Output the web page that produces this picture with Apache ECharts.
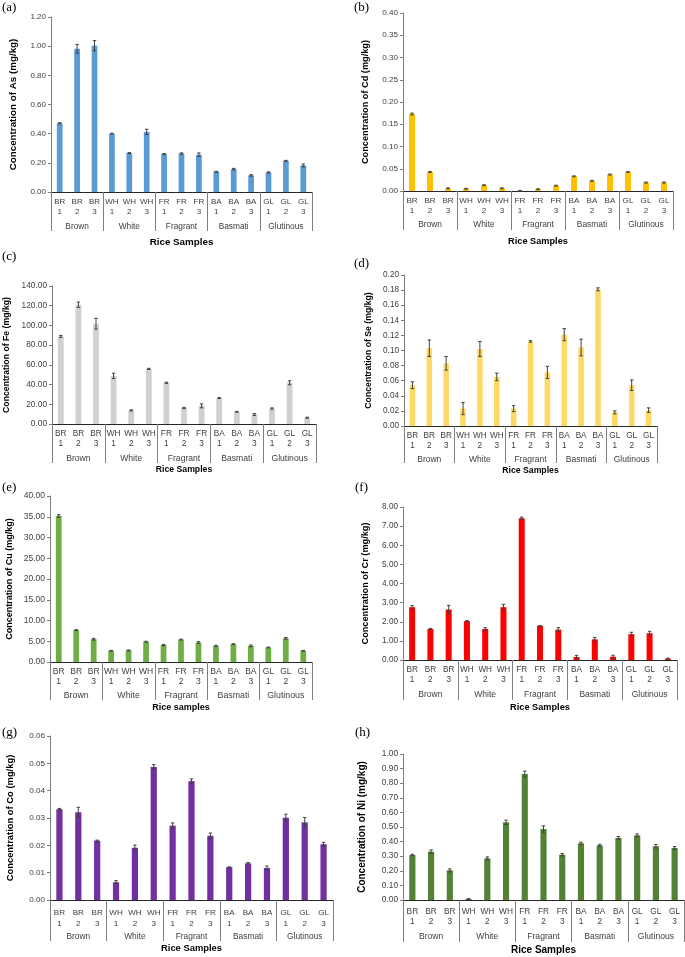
<!DOCTYPE html>
<html><head><meta charset="utf-8">
<script src="https://cdn.jsdelivr.net/npm/echarts@6/dist/echarts.min.js"></script>
<style>html,body{margin:0;padding:0;background:#fff}#c{width:685px;height:957px}</style>
</head><body><div id="c"></div>
<script>
// ---------- data ----------
const samples = ['BR\n1','BR\n2','BR\n3','WH\n1','WH\n2','WH\n3','FR\n1','FR\n2','FR\n3','BA\n1','BA\n2','BA\n3','GL\n1','GL\n2','GL\n3'];
const groups = ['Brown','White','Fragrant','Basmati','Glutinous'];

const asMean = [0.471, 0.982, 1.003, 0.400, 0.267, 0.412, 0.260, 0.264, 0.256, 0.139, 0.157, 0.114, 0.134, 0.214, 0.182];
const asErr  = [0.004, 0.030, 0.035, 0.003, 0.003, 0.018, 0.004, 0.004, 0.012, 0.003, 0.005, 0.005, 0.004, 0.003, 0.010];

const cdMean = [0.173, 0.043, 0.006, 0.005, 0.013, 0.006, 0.0005, 0.004, 0.012, 0.033, 0.023, 0.037, 0.043, 0.019, 0.019];
const cdErr  = [0.002, 0.001, 0.001, 0.001, 0.001, 0.001, 0.001, 0.001, 0.001, 0.001, 0.001, 0.001, 0.001, 0.001, 0.001];

const feMean = [88.9, 121.0, 101.7, 48.8, 13.8, 55.9, 41.8, 16.2, 18.4, 26.3, 12.4, 9.6, 15.7, 41.8, 6.4];
const feErr  = [1.0, 2.7, 5.4, 2.7, 0.6, 0.6, 0.6, 0.6, 2.0, 0.5, 0.4, 0.9, 0.6, 2.0, 0.5];

const seMean = [0.054, 0.103, 0.083, 0.023, 0.102, 0.065, 0.023, 0.112, 0.071, 0.121, 0.104, 0.181, 0.018, 0.054, 0.021];
const seErr  = [0.0045, 0.011, 0.009, 0.008, 0.010, 0.005, 0.004, 0.001, 0.008, 0.008, 0.011, 0.002, 0.002, 0.007, 0.003];

const cuMean = [35.2, 7.7, 5.5, 2.7, 2.8, 4.9, 4.1, 5.4, 4.7, 3.9, 4.3, 3.9, 3.5, 5.7, 2.7];
const cuErr  = [0.3, 0.1, 0.2, 0.1, 0.1, 0.1, 0.15, 0.1, 0.2, 0.15, 0.1, 0.2, 0.1, 0.2, 0.1];

const crMean = [2.76, 1.62, 2.64, 2.03, 1.62, 2.76, 7.41, 1.78, 1.59, 0.16, 1.08, 0.17, 1.35, 1.40, 0.07];
const crErr  = [0.08, 0.03, 0.22, 0.03, 0.07, 0.15, 0.06, 0.02, 0.10, 0.08, 0.10, 0.08, 0.10, 0.10, 0.03];

const coMean = [0.0332, 0.0321, 0.0217, 0.0065, 0.0191, 0.0487, 0.0272, 0.0435, 0.0235, 0.0120, 0.0134, 0.0117, 0.0301, 0.0284, 0.0204];
const coErr  = [0.0003, 0.0018, 0.0002, 0.0006, 0.0010, 0.0008, 0.0010, 0.0008, 0.0010, 0.0001, 0.0003, 0.0007, 0.0013, 0.0018, 0.0007];

const niMean = [0.308, 0.331, 0.203, 0.007, 0.285, 0.532, 0.863, 0.486, 0.310, 0.388, 0.374, 0.425, 0.443, 0.368, 0.356];
const niErr  = [0.005, 0.012, 0.010, 0.002, 0.010, 0.015, 0.020, 0.022, 0.008, 0.008, 0.007, 0.010, 0.010, 0.012, 0.010];

const panelLetters = ['(a)','(b)','(c)','(d)','(e)','(f)','(g)','(h)'];
const yTitles = ['Concentration of As (mg/kg)','Concentration of Cd (mg/kg)','Concentration of Fe (mg/kg)','Concentration of Se (mg/kg)',
                 'Concentration of Cu (mg/kg)','Concentration of Cr (mg/kg)','Concentration of Co (mg/kg)','Concentration of Ni (mg/kg)'];
const xTitles = ['Rice Samples','Rice Samples','Rice Samples','Rice Samples','Rice samples','Rice Samples','Rice Samples','Rice Samples'];
const yMax  = [1.2, 0.4, 140, 0.2, 40, 8, 0.06, 1.0];
const yStep = [0.2, 0.05, 20, 0.02, 5, 1, 0.01, 0.1];
const means = [asMean, cdMean, feMean, seMean, cuMean, crMean, coMean, niMean];
const errs  = [asErr, cdErr, feErr, seErr, cuErr, crErr, coErr, niErr];

// ---------- layout / style ----------
const colors = ['#5B9BD5','#FFC000','#D0D0D0','#FFD966','#70AD47','#FF0000','#7030A0','#548235'];
// left, top, width, height of plot area
const boxes = [
  [51, 17, 261, 175], [403, 13, 270, 178],
  [52, 286, 264, 138], [404, 275, 253, 151],
  [50, 496, 262, 166], [403, 507, 274, 153],
  [50, 736, 283, 164], [403, 754, 281, 146]
];
const nameGapsY = [33, 33, 41, 31, 36, 33, 35, 36];
const titleSize = [9.8, 9.2, 8.7, 8.7, 9.0, 9.2, 9.4, 10.0];
const tickSize  = [8.0, 8.1, 8.3, 8.2, 8.5, 8.2, 8.1, 8.3];
const catMargin = [5, 5, 5, 5, 5, 5, 7, 7];
const catLH     = [10, 10, 10, 10, 10, 10, 11, 10];
const grpMargin = [31, 30, 30, 29, 29, 30, 33, 32];
const sepLen    = [39, 39, 39, 37, 38, 40, 41, 42];
const xNameGap  = [45, 46, 41, 40, 41, 43, 44, 45];
const letterPos = [[2, 8], [354, 8], [2, 257], [354, 264], [2, 488], [355, 488], [2, 733], [355, 733]];

const FONT = '"Liberation Sans", Arial, sans-serif';

function errRender(params, api) {
  const x = api.value(0), v = api.value(1), e = api.value(2);
  const hi = api.coord([x, v + e]);
  const lo = api.coord([x, Math.max(0, v - e)]);
  const cap = 1.7;
  const st = { stroke: '#404040', lineWidth: 1 };
  return { type: 'group', children: [
    { type: 'line', shape: { x1: hi[0], y1: hi[1], x2: hi[0], y2: lo[1] }, style: st },
    { type: 'line', shape: { x1: hi[0] - cap, y1: hi[1], x2: hi[0] + cap, y2: hi[1] }, style: st },
    { type: 'line', shape: { x1: lo[0] - cap, y1: lo[1], x2: lo[0] + cap, y2: lo[1] }, style: st }
  ]};
}

const grid = [], xAxis = [], yAxis = [], series = [], graphic = [];
for (let i = 0; i < 8; i++) {
  const b = boxes[i];
  grid.push({ left: b[0], top: b[1], width: b[2], height: b[3], containLabel: false, outerBoundsMode: 'none' });
  xAxis.push({
    type: 'category', gridIndex: i, data: samples, position: 'bottom',
    axisLine: { show: true, lineStyle: { color: '#262626', width: 1 } },
    axisTick: { show: false },
    axisLabel: { interval: 0, margin: catMargin[i], color: '#404040', fontFamily: FONT, fontSize: tickSize[i], lineHeight: catLH[i] },
    name: xTitles[i], nameLocation: 'middle', nameGap: xNameGap[i],
    nameTextStyle: { fontFamily: FONT, fontWeight: 'bold', fontSize: titleSize[i], color: '#000' }
  });
  xAxis.push({
    type: 'category', gridIndex: i, data: groups, position: 'bottom', offset: 0,
    axisLine: { show: false },
    axisTick: { show: true, length: sepLen[i], interval: 0, lineStyle: { color: '#7f7f7f', width: 1 } },
    axisLabel: { interval: 0, margin: grpMargin[i], color: '#404040', fontFamily: FONT, fontSize: tickSize[i] + 0.3 }
  });
  yAxis.push({
    type: 'value', gridIndex: i, min: 0, max: yMax[i], interval: yStep[i],
    axisLine: { show: true, lineStyle: { color: '#7f7f7f', width: 1 } },
    axisTick: { show: true, length: 3, lineStyle: { color: '#7f7f7f' } },
    splitLine: { show: false },
    axisLabel: { margin: 5, color: '#404040', fontFamily: FONT, fontSize: tickSize[i], formatter: v => v.toFixed(2) },
    name: yTitles[i], nameLocation: 'middle', nameGap: nameGapsY[i],
    nameTextStyle: { fontFamily: FONT, fontWeight: 'bold', fontSize: titleSize[i], color: '#000' }
  });
  series.push({
    type: 'bar', xAxisIndex: 2 * i, yAxisIndex: i, data: means[i], barWidth: '33%',
    itemStyle: { color: colors[i] }, silent: true, animation: false
  });
  series.push({
    type: 'custom', xAxisIndex: 2 * i, yAxisIndex: i,
    data: means[i].map((v, k) => [k, v, errs[i][k]]),
    encode: { x: 0, y: 1 }, renderItem: errRender, silent: true, animation: false, z: 5
  });
  graphic.push({
    type: 'text', left: letterPos[i][0], top: letterPos[i][1] - 7,
    style: { text: panelLetters[i], font: '13px "Liberation Serif", "Times New Roman", serif', fill: '#000' }
  });
}

const chart = echarts.init(document.getElementById('c'), null, { renderer: 'canvas' });
chart.setOption({ animation: false, backgroundColor: '#fff', grid, xAxis, yAxis, series, graphic });
</script>
</body></html>
